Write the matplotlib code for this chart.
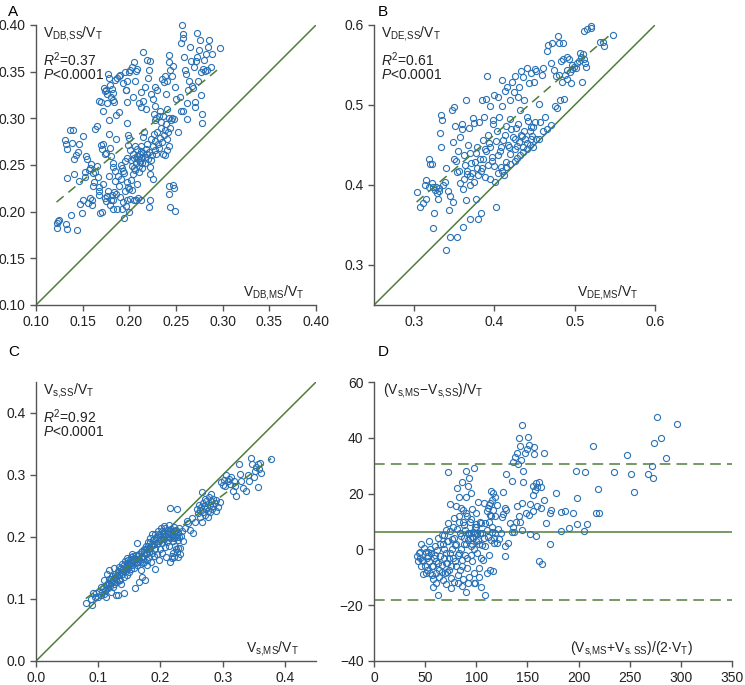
import numpy as np
import matplotlib.pyplot as plt

plt.rcParams['font.family'] = ['Liberation Sans', 'DejaVu Sans']
plt.rcParams['mathtext.fontset'] = 'custom'
plt.rcParams['mathtext.rm'] = 'Liberation Sans'
plt.rcParams['mathtext.it'] = 'Liberation Sans:italic'

# Panel A: V_DB,MS/V_T vs V_DB,SS/V_T
a_x = [0.122, 0.123, 0.124, 0.125, 0.133, 0.132, 0.137, 0.144, 0.131, 0.132, 0.133, 0.133, 0.136, 0.140, 0.139, 0.141,
       0.143, 0.145, 0.146, 0.141, 0.146, 0.147, 0.149, 0.150, 0.150, 0.152, 0.153, 0.154, 0.155, 0.156, 0.157, 0.158,
       0.158, 0.159, 0.160, 0.160, 0.161, 0.161, 0.163, 0.163, 0.165, 0.162, 0.165, 0.166, 0.167, 0.167, 0.168, 0.168,
       0.170, 0.169, 0.171, 0.170, 0.171, 0.172, 0.174,
       0.173, 0.174, 0.175, 0.176, 0.177, 0.178, 0.179, 0.180, 0.181, 0.182, 0.183, 0.184, 0.185, 0.187, 0.189, 0.190,
       0.176, 0.178, 0.172, 0.186, 0.193, 0.195, 0.196, 0.198, 0.200, 0.201, 0.203, 0.205, 0.207, 0.208, 0.215, 0.219,
       0.175, 0.178, 0.179, 0.180, 0.182, 0.183, 0.185, 0.186, 0.189, 0.191, 0.192, 0.193, 0.194, 0.195, 0.196, 0.197,
       0.197, 0.198, 0.199, 0.199, 0.200, 0.201,
       0.172, 0.174, 0.175, 0.176, 0.177, 0.178, 0.179, 0.180, 0.181, 0.182, 0.183, 0.184, 0.185, 0.186, 0.187, 0.188,
       0.189, 0.190, 0.191, 0.192, 0.193, 0.194, 0.195, 0.196, 0.197, 0.198, 0.199, 0.200, 0.201, 0.202, 0.203, 0.205,
       0.207, 0.208,
       0.202, 0.203, 0.204, 0.205, 0.206, 0.207, 0.208, 0.209, 0.210, 0.211, 0.212, 0.213, 0.214, 0.215, 0.216, 0.217,
       0.218, 0.219, 0.220, 0.221, 0.222, 0.223, 0.224, 0.225, 0.226, 0.227, 0.228, 0.229, 0.230, 0.231, 0.232, 0.233,
       0.234, 0.235, 0.236, 0.237, 0.238, 0.239, 0.240, 0.241,
       0.204, 0.206, 0.210, 0.212, 0.213, 0.215, 0.217, 0.218, 0.220, 0.221, 0.222, 0.223, 0.225, 0.227, 0.228, 0.230,
       0.232, 0.233, 0.235, 0.237, 0.238, 0.239, 0.240, 0.242, 0.243, 0.244, 0.246, 0.247, 0.248, 0.249, 0.250,
       0.252, 0.254, 0.255, 0.256, 0.257, 0.258, 0.259, 0.260, 0.261, 0.262, 0.263, 0.264, 0.265, 0.266, 0.267, 0.268,
       0.269, 0.270, 0.271, 0.272, 0.273, 0.274, 0.275, 0.276, 0.277, 0.277, 0.278, 0.278, 0.279, 0.280, 0.281, 0.282,
       0.283, 0.284, 0.285, 0.287, 0.289, 0.297, 0.270, 0.262, 0.258, 0.255,
       0.242, 0.243, 0.244, 0.247, 0.248, 0.249, 0.222, 0.221, 0.222, 0.225, 0.213, 0.209, 0.200,
       0.240, 0.243, 0.245, 0.244, 0.246, 0.236, 0.234, 0.240, 0.242, 0.238, 0.227, 0.229, 0.226,
       0.205, 0.208, 0.211, 0.214, 0.217, 0.210, 0.204, 0.212, 0.219, 0.223, 0.206, 0.215]
a_y = [0.183, 0.188, 0.190, 0.191, 0.181, 0.187, 0.196, 0.180, 0.277, 0.273, 0.267, 0.236, 0.288, 0.287, 0.274, 0.256,
       0.261, 0.264, 0.273, 0.240, 0.233, 0.208, 0.199, 0.212, 0.281, 0.242, 0.237, 0.260, 0.256, 0.209, 0.245, 0.247,
       0.215, 0.251, 0.212, 0.207, 0.241, 0.227, 0.242, 0.289, 0.292, 0.232, 0.249, 0.237, 0.222, 0.226, 0.218, 0.319,
       0.317, 0.199, 0.200, 0.271, 0.267, 0.273, 0.262,
       0.333, 0.329, 0.330, 0.326, 0.348, 0.343, 0.336, 0.323, 0.331, 0.327, 0.320, 0.318, 0.341, 0.343, 0.345, 0.346,
       0.316, 0.298, 0.308, 0.304, 0.338, 0.350, 0.330, 0.340, 0.350, 0.352, 0.355, 0.360, 0.351, 0.353, 0.371, 0.362,
       0.263, 0.283, 0.268, 0.260, 0.248, 0.252, 0.244, 0.278, 0.307, 0.250, 0.247, 0.244, 0.241, 0.254, 0.330, 0.318,
       0.295, 0.258, 0.271, 0.282, 0.279, 0.266,
       0.230, 0.215, 0.211, 0.217, 0.222, 0.238, 0.207, 0.213, 0.218, 0.203, 0.212, 0.221, 0.233, 0.219, 0.203, 0.238,
       0.228, 0.216, 0.235, 0.203, 0.210, 0.193, 0.222, 0.206, 0.213, 0.232, 0.226, 0.200, 0.214, 0.234, 0.223, 0.213,
       0.212, 0.230,
       0.255, 0.249, 0.262, 0.258, 0.245, 0.252, 0.267, 0.256, 0.249, 0.262, 0.258, 0.270, 0.252, 0.263, 0.285, 0.259,
       0.267, 0.273, 0.256, 0.264, 0.248, 0.278, 0.261, 0.270, 0.283, 0.266, 0.276, 0.262, 0.285, 0.272, 0.268, 0.279,
       0.290, 0.275, 0.262, 0.282, 0.287, 0.294, 0.278, 0.285,
       0.323, 0.340, 0.316, 0.312, 0.328, 0.319, 0.334, 0.310, 0.343, 0.352, 0.361, 0.326, 0.321, 0.313, 0.334, 0.330,
       0.302, 0.308, 0.342, 0.339, 0.345, 0.326, 0.340, 0.368, 0.360, 0.352, 0.345, 0.356, 0.299, 0.334, 0.321,
       0.285, 0.323, 0.381, 0.400, 0.390, 0.386, 0.366, 0.352, 0.347, 0.316, 0.330, 0.340, 0.376, 0.361, 0.335, 0.333,
       0.355, 0.317, 0.361, 0.366, 0.391, 0.340, 0.373, 0.384, 0.350, 0.325, 0.305, 0.295, 0.353, 0.363, 0.351, 0.369,
       0.352, 0.376, 0.384, 0.355, 0.369, 0.375, 0.312, 0.299, 0.308, 0.308,
       0.228, 0.219, 0.205, 0.229, 0.225, 0.201, 0.212, 0.205, 0.240, 0.235, 0.213, 0.215, 0.224,
       0.310, 0.300, 0.298, 0.290, 0.300, 0.302, 0.296, 0.266, 0.270, 0.261, 0.298, 0.300, 0.305,
       0.247, 0.260, 0.253, 0.247, 0.252, 0.243, 0.240, 0.265, 0.262, 0.255, 0.270, 0.280]
a_fit = (0.822, 0.110)

# Panel B: V_DE,MS/V_T vs V_DE,SS/V_T
b_x = [0.303, 0.307, 0.311, 0.313, 0.315, 0.315, 0.318, 0.320, 0.322, 0.323, 0.325, 0.324, 0.326, 0.328, 0.330, 0.331,
       0.332, 0.333, 0.334, 0.335, 0.338, 0.340, 0.340, 0.342, 0.344, 0.345, 0.345, 0.347, 0.348, 0.349, 0.350, 0.350,
       0.351, 0.353, 0.354, 0.355, 0.357, 0.357, 0.359, 0.360, 0.361, 0.362, 0.363, 0.365, 0.365, 0.366, 0.367, 0.368,
       0.369, 0.370, 0.370, 0.372, 0.373, 0.374, 0.375, 0.376, 0.377, 0.378, 0.379, 0.380, 0.381, 0.382, 0.383, 0.384,
       0.385, 0.386, 0.387, 0.388, 0.390, 0.390, 0.391, 0.392, 0.394, 0.395, 0.395, 0.397, 0.398, 0.399, 0.400, 0.401,
       0.402, 0.403, 0.404, 0.405, 0.406, 0.407, 0.408, 0.409, 0.410, 0.411, 0.412, 0.413, 0.415, 0.415, 0.416, 0.418,
       0.419, 0.420, 0.420, 0.422, 0.423, 0.424, 0.425, 0.426, 0.427, 0.428, 0.429, 0.430, 0.431, 0.432, 0.433, 0.434,
       0.435, 0.436, 0.437, 0.438, 0.440, 0.440, 0.441, 0.443, 0.444, 0.445, 0.445, 0.447, 0.448, 0.449, 0.450, 0.451,
       0.452, 0.455, 0.457, 0.459, 0.460, 0.463, 0.465, 0.467, 0.470, 0.472, 0.474, 0.476, 0.477, 0.478, 0.479, 0.480,
       0.481, 0.482, 0.483, 0.484, 0.485, 0.486, 0.487, 0.488, 0.490, 0.490, 0.491, 0.493, 0.494, 0.495, 0.496, 0.497,
       0.499, 0.501, 0.503, 0.505, 0.507, 0.508, 0.509, 0.510, 0.511, 0.512, 0.513, 0.514, 0.515, 0.520, 0.520, 0.531,
       0.535, 0.536, 0.548,
       0.405, 0.410, 0.415, 0.420, 0.425, 0.428, 0.432, 0.436, 0.440, 0.444, 0.448, 0.452, 0.456, 0.460, 0.465, 0.470,
       0.318, 0.322, 0.327, 0.331, 0.336, 0.352, 0.356, 0.362, 0.366, 0.371, 0.377, 0.383, 0.388, 0.393, 0.397, 0.402,
       0.408, 0.413, 0.417, 0.421, 0.426, 0.429, 0.433, 0.437, 0.442, 0.446, 0.378, 0.386, 0.392, 0.398, 0.361, 0.369]
b_y = [0.391, 0.372, 0.378, 0.400, 0.406, 0.383, 0.433, 0.426, 0.426, 0.346, 0.365, 0.398, 0.394, 0.390, 0.382, 0.396,
       0.465, 0.447, 0.488, 0.481, 0.404, 0.421, 0.319, 0.392, 0.369, 0.386, 0.335, 0.494, 0.454, 0.379, 0.432, 0.497,
       0.474, 0.416, 0.335, 0.442, 0.460, 0.402, 0.476, 0.470, 0.348, 0.408, 0.425, 0.506, 0.381, 0.418, 0.450, 0.471,
       0.440, 0.400, 0.357, 0.415, 0.484, 0.404, 0.477, 0.429, 0.382, 0.448, 0.358, 0.412, 0.479, 0.432, 0.365, 0.506,
       0.421, 0.456, 0.485, 0.410, 0.442, 0.508, 0.536, 0.425, 0.499, 0.408, 0.448, 0.435, 0.481, 0.424, 0.512, 0.404,
       0.373, 0.467, 0.437, 0.510, 0.485, 0.443, 0.423, 0.531, 0.499, 0.456, 0.412, 0.518, 0.474, 0.429, 0.523, 0.448,
       0.506, 0.483, 0.439, 0.529, 0.460, 0.516, 0.445, 0.536, 0.471, 0.449, 0.510, 0.522, 0.454, 0.494, 0.542, 0.461,
       0.448, 0.535, 0.506, 0.457, 0.546, 0.485, 0.453, 0.527, 0.467, 0.457, 0.540, 0.461, 0.473, 0.529, 0.545, 0.479,
       0.542, 0.501, 0.479, 0.537, 0.546, 0.485, 0.567, 0.575, 0.553, 0.578, 0.544, 0.499, 0.536, 0.496, 0.586, 0.578,
       0.537, 0.506, 0.555, 0.529, 0.578, 0.558, 0.508, 0.538, 0.560, 0.532, 0.544, 0.558, 0.541, 0.527, 0.550, 0.545,
       0.548, 0.546, 0.552, 0.555, 0.565, 0.560, 0.529, 0.564, 0.557, 0.592, 0.553, 0.548, 0.595, 0.599, 0.596, 0.579,
       0.579, 0.574, 0.588,
       0.415, 0.418, 0.422, 0.426, 0.430, 0.434, 0.438, 0.441, 0.445, 0.450, 0.447, 0.457, 0.458, 0.468, 0.470, 0.475,
       0.398, 0.402, 0.397, 0.392, 0.400, 0.430, 0.418, 0.438, 0.414, 0.428, 0.440, 0.418, 0.445, 0.452, 0.430, 0.455,
       0.447, 0.463, 0.450, 0.470, 0.458, 0.476, 0.462, 0.467, 0.480, 0.472, 0.421, 0.433, 0.462, 0.476, 0.395, 0.411]
b_fit = (0.867, 0.116)

# Panel C: V_s,MS/V_T vs V_s,SS/V_T
c_x = [0.080, 0.088, 0.090, 0.092, 0.095, 0.097, 0.100, 0.102, 0.104, 0.105, 0.106, 0.108, 0.109, 0.110, 0.111, 0.112,
       0.113, 0.114, 0.115, 0.116, 0.117, 0.118, 0.119, 0.120, 0.121, 0.122, 0.123, 0.124, 0.125, 0.126, 0.127, 0.128,
       0.129, 0.130, 0.131, 0.132, 0.133, 0.134, 0.135, 0.136, 0.137, 0.138, 0.139, 0.140, 0.141, 0.142, 0.143, 0.144,
       0.145, 0.146, 0.147, 0.148, 0.149, 0.150, 0.151, 0.152, 0.153, 0.154, 0.155, 0.156, 0.157, 0.158, 0.159, 0.160,
       0.161, 0.162, 0.163, 0.164, 0.165, 0.166, 0.167, 0.168, 0.169, 0.170, 0.171, 0.172, 0.173, 0.174, 0.175, 0.176,
       0.177, 0.178, 0.179, 0.180, 0.181, 0.182, 0.183, 0.184, 0.185, 0.186, 0.187, 0.188, 0.189, 0.190, 0.191, 0.192,
       0.193, 0.194, 0.195, 0.196, 0.197, 0.198, 0.199, 0.200, 0.201, 0.202, 0.203, 0.204, 0.205, 0.206, 0.207, 0.208,
       0.209, 0.210, 0.211, 0.212, 0.213, 0.214, 0.215, 0.216, 0.217, 0.218, 0.219, 0.220, 0.221, 0.222, 0.223, 0.224,
       0.225, 0.226, 0.227, 0.228, 0.229, 0.230, 0.231, 0.232, 0.233, 0.235, 0.237, 0.240, 0.242, 0.245, 0.247, 0.250,
       0.252, 0.255, 0.258, 0.260, 0.262, 0.263, 0.264, 0.265, 0.266, 0.267, 0.268, 0.269, 0.270, 0.271, 0.272, 0.273,
       0.274, 0.275, 0.276, 0.277, 0.278, 0.279, 0.280, 0.281, 0.282, 0.283, 0.284, 0.285, 0.287, 0.289, 0.290, 0.292,
       0.296, 0.298, 0.300, 0.302, 0.304, 0.306, 0.308, 0.310, 0.312, 0.314, 0.316, 0.318, 0.320, 0.322, 0.326, 0.328,
       0.330, 0.333, 0.337, 0.340, 0.342, 0.345, 0.347, 0.350, 0.352, 0.354, 0.356, 0.357, 0.358, 0.360, 0.362, 0.378,
       0.118, 0.121, 0.124, 0.127, 0.130, 0.133, 0.136, 0.139, 0.141, 0.144, 0.146, 0.148, 0.150, 0.152, 0.154, 0.156,
       0.158, 0.160, 0.162, 0.164, 0.166, 0.168, 0.170, 0.172, 0.174, 0.176, 0.178, 0.180, 0.182, 0.184, 0.186, 0.188,
       0.190, 0.192, 0.194, 0.196, 0.198, 0.200, 0.202, 0.204, 0.206, 0.208, 0.210, 0.212, 0.214, 0.216, 0.218, 0.220,
       0.222, 0.224, 0.226, 0.228, 0.230, 0.218, 0.220, 0.222, 0.225, 0.228, 0.215, 0.227]
c_y = [0.093, 0.100, 0.091, 0.109, 0.103, 0.110, 0.104, 0.113, 0.106, 0.120, 0.112, 0.118, 0.108, 0.130, 0.115, 0.122,
       0.104, 0.141, 0.126, 0.117, 0.133, 0.146, 0.121, 0.112, 0.128, 0.137, 0.119, 0.131, 0.150, 0.124, 0.141, 0.133,
       0.106, 0.127, 0.145, 0.106, 0.138, 0.152, 0.130, 0.143, 0.125, 0.157, 0.140, 0.148, 0.135, 0.110, 0.162, 0.145,
       0.152, 0.139, 0.166, 0.150, 0.157, 0.143, 0.160, 0.168, 0.148, 0.155, 0.172, 0.162, 0.150, 0.166, 0.117, 0.158,
       0.171, 0.191, 0.155, 0.164, 0.128, 0.172, 0.160, 0.147, 0.168, 0.177, 0.135, 0.165, 0.181, 0.160, 0.131, 0.172,
       0.186, 0.163, 0.155, 0.192, 0.176, 0.168, 0.199, 0.183, 0.160, 0.175, 0.205, 0.187, 0.170, 0.196, 0.180, 0.148,
       0.200, 0.188, 0.172, 0.210, 0.193, 0.163, 0.181, 0.203, 0.214, 0.190, 0.175, 0.207, 0.196, 0.218, 0.184, 0.201,
       0.168, 0.211, 0.192, 0.205, 0.220, 0.186, 0.198, 0.160, 0.213, 0.202, 0.166, 0.193, 0.209, 0.216, 0.200, 0.185,
       0.212, 0.176, 0.205, 0.168, 0.195, 0.214, 0.182, 0.173, 0.202, 0.210, 0.193, 0.215, 0.226, 0.222, 0.212, 0.230,
       0.206, 0.225, 0.245, 0.238, 0.252, 0.243, 0.233, 0.248, 0.225, 0.272, 0.255, 0.240, 0.250, 0.262, 0.236, 0.245,
       0.258, 0.248, 0.232, 0.242, 0.265, 0.252, 0.240, 0.258, 0.270, 0.245, 0.262, 0.250, 0.255, 0.242, 0.260, 0.248,
       0.256, 0.288, 0.284, 0.292, 0.283, 0.300, 0.290, 0.294, 0.285, 0.297, 0.275, 0.290, 0.283, 0.266, 0.318, 0.302,
       0.290, 0.279, 0.275, 0.300, 0.290, 0.328, 0.318, 0.297, 0.306, 0.313, 0.317, 0.280, 0.310, 0.320, 0.304, 0.326,
       0.125, 0.133, 0.128, 0.136, 0.139, 0.131, 0.150, 0.146, 0.155, 0.150, 0.158, 0.163, 0.155, 0.158, 0.165, 0.170,
       0.160, 0.165, 0.160, 0.170, 0.165, 0.176, 0.168, 0.158, 0.175, 0.180, 0.175, 0.185, 0.180, 0.192, 0.188, 0.195,
       0.188, 0.205, 0.198, 0.190, 0.205, 0.195, 0.210, 0.200, 0.205, 0.215, 0.200, 0.195, 0.210, 0.205, 0.210, 0.205,
       0.198, 0.210, 0.200, 0.208, 0.200, 0.170, 0.175, 0.168, 0.180, 0.183, 0.246, 0.245]
c_fit = (0.758, 0.040)

# Panel D: Bland-Altman of V_s
d_x = [145, 142, 151, 143, 152, 156, 150, 140, 148, 156, 166, 138, 136, 141, 144, 129, 135, 146, 146, 155,
       157, 155, 158, 161, 163, 159, 126, 114, 116, 118, 115, 113, 112, 111, 110, 178, 198, 219, 254, 72,
       197, 206, 235, 251, 268, 273, 272, 247, 274, 281, 285, 214, 166, 159, 163, 153, 155, 152, 149, 145,
       140, 142, 143, 139, 136, 133, 129, 126, 128, 125, 121, 124, 122, 117, 115, 120, 128, 131, 135, 137,
       145, 153, 158, 168, 172, 173, 183, 187, 195, 198, 191, 183, 205, 208, 172, 161, 164, 128, 217, 220,
       277, 296,
       42, 44, 45, 46, 47, 48, 49, 50, 50.5, 51, 52, 53, 54, 54, 55, 56, 57, 58, 58, 59,
       60, 61, 61, 62, 63, 63, 64, 65, 66, 67, 67, 68, 68, 69, 70, 70, 71, 71, 72, 73,
       74, 74, 74, 75, 76, 77, 78, 78, 79, 80, 80, 81, 81, 82, 83, 83, 83, 84, 85, 86,
       86, 87, 87, 88, 88, 89, 90, 90, 90, 91, 91, 92, 92, 93, 93, 93, 94, 95, 95, 96,
       96, 96, 97, 98, 98, 99, 99, 100, 100, 101, 102, 102, 103, 104, 105, 105, 106, 107, 108, 109,
       109, 109, 110, 111, 112, 113, 113, 114, 115, 116, 117, 118,
       52, 55, 58, 60, 63, 65, 66, 68, 70, 72, 73, 75, 76, 78, 79, 80, 82, 84, 85, 86,
       88, 89, 90, 91, 92, 94, 95, 96, 97, 98, 99, 100, 101, 103, 104, 106, 108, 110, 112, 114,
       116, 118, 120, 105, 95, 87, 83, 77, 71, 64, 57, 48, 46, 53, 61, 75, 82, 98, 103, 92,
       86, 70, 66, 90, 95, 100, 85, 45, 43]
d_y = [44.5, 39.8, 40.4, 37.0, 37.4, 36.8, 36.1, 34.6, 34.4, 34.2, 34.4, 33.2, 31.2, 30.5, 32.0, 26.9, 24.5, 28.1, 24.2, 22.9,
       21.3, 19.5, 23.9, 24.2, 22.4, 22.3, 20.4, 21.1, 20.1, 18.7, 17.7, 16.5, 16.0, 14.8, 13.6, 20.1, 18.3, 21.5, 20.7, 27.6,
       28.2, 27.9, 27.9, 27.1, 27.1, 25.7, 30.0, 34.0, 38.0, 39.8, 32.9, 37.0, 17.7, 15.6, 15.0, 16.2, 13.6, 12.4, 13.0, 16.5,
       15.4, 11.8, 10.0, 10.0, 8.0, 9.6, 14.2, 12.7, 14.8, 11.5, 7.3, 5.8, 3.8, 4.0, 6.4, 2.3, 1.3, 2.3, 6.1, 6.1,
       7.0, 5.6, 4.9, 9.6, 13.0, 14.2, 13.3, 13.6, 13.2, 9.0, 7.6, 6.7, 6.7, 9.2, 1.8, -4.3, -5.1, -2.3, 13.1, 12.9,
       47.3, 44.9,
       -2.3, -1.3, -3.1, 1.9, -3.7, -8.8, 0.4, -5.8, -8.5, -0.8, -7.3, -2.5, 2.9, -4.3, -8.5, -1.3, -6.0, -10.6, -13.5, -3.1,
       1.1, -8.5, -4.3, -0.2, 4.0, -16.5, -7.3, -2.3, -5.5, 1.9, -10.8, 5.2, -3.1, -8.5, -1.3, -12.3, 2.9, -4.7, 9.4, -7.3,
       6.5, 16.3, -1.3, -10.2, 3.8, -3.1, 11.1, -11.8, 1.4, -6.0, 15.5, 21.9, 7.3, -9.0, -1.3, 18.9, 9.8, -7.3, 4.8, 24.3,
       -3.7, 14.3, -10.6, 1.9, 8.6, -1.9, -15.2, 18.7, 28.2, 11.8, -6.7, 3.4, 22.7, 5.8, -9.9, 25.7, 9.9, 1.1, 20.1, -4.3,
       14.4, 4.6, 6.3, -8.5, 29.1, 5.8, -12.0, 13.0, 8.2, -1.3, 17.1, 3.4, -6.7, 5.8, -13.3, 9.4, 1.7, -3.7, 16.5, -16.5,
       1.1, 9.4, -8.5, 4.6, -1.9, 12.4, -7.3, 3.4, 8.2, -7.9, 2.3, 5.8,
       -3, 0, -6, -2, -5, 2, -8, 0, -5, 3, -3, -6, 0, 4, -4, 2, -2, 6, 0, -6,
       4, 7, 2, -3, 6, 4, 6, 2, 4, 0, 8, 3, 6, 2, 10, 6, 4, 7, 10, 12,
       14, 12, 16, -3, -2, 10, 12, 8, -8, -10, -9, -4, -6, -1, -12, -14, -12, -12, -10, -12,
       -13, 7, 5, 13, 11, 9, 15, -1, -4]
d_mean = 6.2
d_loa = (-18.2, 30.6)

blue = '#2a72b5'
green = '#4f7d3b'
spine_col = '#555555'

fig = plt.figure(figsize=(7.45, 6.85), dpi=100)
W, H = 745.0, 685.0


def make_axes(left, right, top, bottom):
    return fig.add_axes([left / W, 1 - bottom / H, (right - left) / W, (bottom - top) / H])


def style(ax):
    for s in ['top', 'right']:
        ax.spines[s].set_visible(False)
    for s in ['left', 'bottom']:
        ax.spines[s].set_color(spine_col)
        ax.spines[s].set_linewidth(1.0)
    ax.tick_params(direction='out', length=4, width=1.0, color=spine_col, labelsize=10, labelcolor='#222222')


def scatter(ax, x, y):
    ax.plot(x, y, 'o', ms=4.4, mfc='none', mec=blue, mew=0.8, clip_on=False)


def fit_line(ax, x, fit):
    xs = np.array([min(x), max(x)])
    ax.plot(xs, fit[0] * xs + fit[1], color=green, lw=1.1, dashes=(6, 4))


txt = dict(fontsize=10, color='#222222')

# A
axA = make_axes(36, 316, 25, 305)
style(axA)
axA.plot([0.1, 0.4], [0.1, 0.4], color=green, lw=1.1)
scatter(axA, a_x, a_y)
fit_line(axA, a_x, a_fit)
axA.set_xlim(0.1, 0.4)
axA.set_ylim(0.1, 0.4)
axA.set_xticks(np.arange(0.10, 0.41, 0.05))
axA.set_yticks(np.arange(0.10, 0.41, 0.05))
axA.xaxis.set_major_formatter(plt.FormatStrFormatter('%.2f'))
axA.yaxis.set_major_formatter(plt.FormatStrFormatter('%.2f'))
axA.text(0.025, 0.97, r'$\mathregular{V_{DB{,}SS}/V_T}$', transform=axA.transAxes, va='center', **txt)
axA.text(0.025, 0.875, r'$\mathit{R}^2$=0.37', transform=axA.transAxes, va='center', **txt)
axA.text(0.025, 0.82, r'$\mathit{P}$<0.0001', transform=axA.transAxes, va='center', **txt)
axA.text(0.96, 0.045, r'$\mathregular{V_{DB{,}MS}/V_T}$', transform=axA.transAxes, ha='right', va='center', **txt)
fig.text(8 / W, 1 - 12 / H, 'A', fontsize=11, va='center', ha='left')

# B
axB = make_axes(374, 655, 25, 305)
style(axB)
axB.plot([0.25, 0.6], [0.25, 0.6], color=green, lw=1.1)
scatter(axB, b_x, b_y)
fit_line(axB, b_x, b_fit)
axB.set_xlim(0.25, 0.6)
axB.set_ylim(0.25, 0.6)
axB.set_xticks([0.3, 0.4, 0.5, 0.6])
axB.set_yticks([0.3, 0.4, 0.5, 0.6])
axB.xaxis.set_major_formatter(plt.FormatStrFormatter('%.1f'))
axB.yaxis.set_major_formatter(plt.FormatStrFormatter('%.1f'))
axB.text(0.025, 0.97, r'$\mathregular{V_{DE{,}SS}/V_T}$', transform=axB.transAxes, va='center', **txt)
axB.text(0.025, 0.875, r'$\mathit{R}^2$=0.61', transform=axB.transAxes, va='center', **txt)
axB.text(0.025, 0.82, r'$\mathit{P}$<0.0001', transform=axB.transAxes, va='center', **txt)
axB.text(0.94, 0.045, r'$\mathregular{V_{DE{,}MS}/V_T}$', transform=axB.transAxes, ha='right', va='center', **txt)
fig.text(378 / W, 1 - 12 / H, 'B', fontsize=11, va='center', ha='left')

# C
axC = make_axes(36, 316, 382, 661)
style(axC)
axC.plot([0, 0.45], [0, 0.45], color=green, lw=1.1)
scatter(axC, c_x, c_y)
fit_line(axC, c_x, c_fit)
axC.set_xlim(0, 0.45)
axC.set_ylim(0, 0.45)
axC.set_xticks([0, 0.1, 0.2, 0.3, 0.4])
axC.set_yticks([0, 0.1, 0.2, 0.3, 0.4])
axC.xaxis.set_major_formatter(plt.FormatStrFormatter('%.1f'))
axC.yaxis.set_major_formatter(plt.FormatStrFormatter('%.1f'))
axC.text(0.025, 0.97, r'$\mathregular{V_{s{,}SS}/V_T}$', transform=axC.transAxes, va='center', **txt)
axC.text(0.025, 0.875, r'$\mathit{R}^2$=0.92', transform=axC.transAxes, va='center', **txt)
axC.text(0.025, 0.82, r'$\mathit{P}$<0.0001', transform=axC.transAxes, va='center', **txt)
axC.text(0.94, 0.045, r'$\mathregular{V_{s{,}MS}/V_T}$', transform=axC.transAxes, ha='right', va='center', **txt)
fig.text(8 / W, 1 - 352 / H, 'C', fontsize=11, va='center', ha='left')

# D
axD = make_axes(374, 732, 382, 661)
style(axD)
axD.axhline(d_mean, color=green, lw=1.1)
for v in d_loa:
    axD.axhline(v, color=green, lw=1.1, dashes=(7, 4))
scatter(axD, d_x, d_y)
axD.set_xlim(0, 350)
axD.set_ylim(-40, 60)
axD.set_xticks(range(0, 351, 50))
axD.set_yticks(range(-40, 61, 20))
axD.text(0.025, 0.97, r'$\mathregular{(V_{s{,}MS}{-}V_{s{,}SS})/V_T}$', transform=axD.transAxes, va='center', **txt)
axD.text(0.89, 0.045, r'$\mathregular{(V_{s{,}MS}{+}V_{s{.}SS})/(2{\cdot}V_T)}$', transform=axD.transAxes,
         ha='right', va='center', **txt)
fig.text(378 / W, 1 - 352 / H, 'D', fontsize=11, va='center', ha='left')

plt.savefig('out.png', dpi=100)
